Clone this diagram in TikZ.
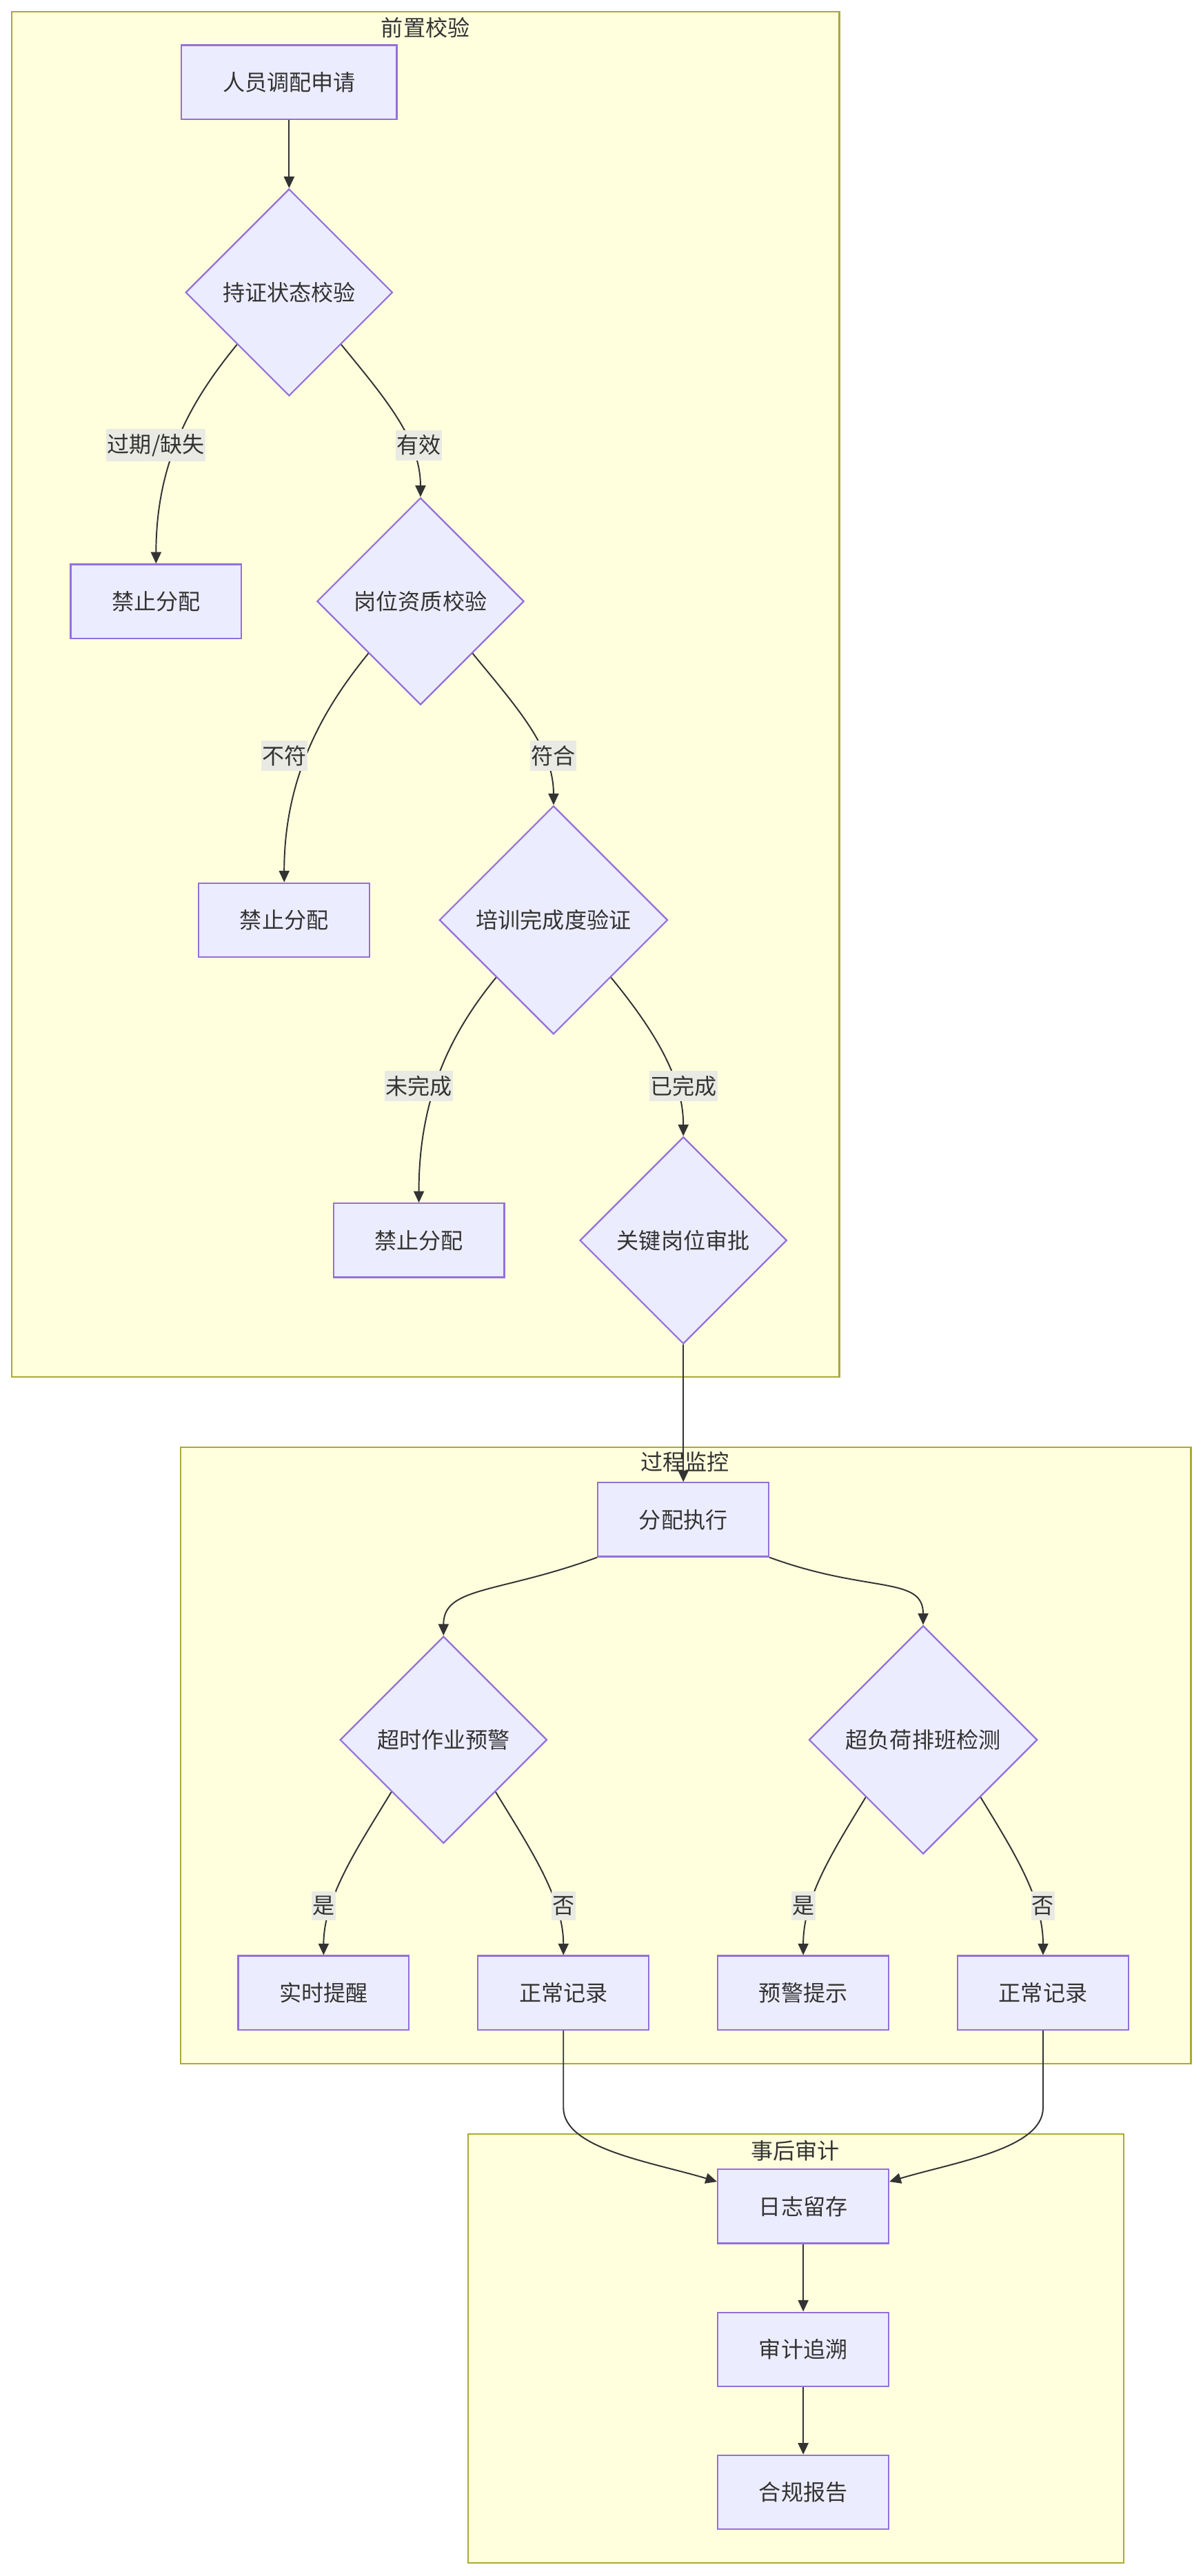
\documentclass[tikz,border=0pt]{standalone}
\usepackage{fontspec}
\setmainfont{Noto Sans CJK SC}
\usepackage{xcolor}
\usepackage{tikz}
\usetikzlibrary{shapes.geometric, arrows.meta, positioning}
\definecolor{flowfill}{HTML}{ECECFF}
\definecolor{flowline}{HTML}{9370DB}
\definecolor{grpfill}{HTML}{FFFFDE}
\definecolor{grpline}{HTML}{AAAA33}
\definecolor{flowtext}{HTML}{333333}
\definecolor{lblfill}{HTML}{EAEAE4}

\begin{document}
\begin{tikzpicture}[
    x=0.03cm, y=-0.03cm,
    font=\fontsize{11.5pt}{14pt}\selectfont,
    procbox/.style={
      rectangle, draw=flowline, line width=0.8pt, fill=flowfill,
      text=flowtext, minimum width=3.12cm, minimum height=1.35cm,
      inner sep=0pt, align=center
    },
    decision/.style={
      diamond, draw=flowline, line width=0.8pt, fill=flowfill,
      text=flowtext, minimum width=3.78cm, minimum height=3.78cm,
      inner sep=0pt, align=center
    },
    bigdecision/.style={decision, minimum width=4.17cm, minimum height=4.17cm},
    grp/.style={draw=grpline, line width=0.8pt, fill=grpfill},
    grptitle/.style={text=flowtext, inner sep=0pt},
    lbl/.style={fill=lblfill, text=flowtext, inner xsep=0.5pt, inner ysep=2.5pt},
    arr/.style={-{Triangle[length=2.1mm, width=1.9mm]}, draw=flowtext, line width=0.7pt},
  ]
  \fill[white] (0,0) rectangle (732,1568);
  \useasboundingbox (0,0) rectangle (732,1568);

  % groups
  \draw[grp] (7,7) rectangle (511,838);
  \node[grptitle] (t1) at (259,17) {前置校验};
  \draw[grp] (110,881) rectangle (725,1256);
  \node[grptitle] (t2) at (417,890) {过程监控};
  \draw[grp] (285,1299) rectangle (684,1560);
  \node[grptitle] (t3) at (484,1309) {事后审计};

  % pre checks
  \node[procbox, minimum width=3.93cm] (req) at (176,50) {人员调配申请};
  \node[decision] (cert) at (176,178) {持证状态校验};
  \node[procbox] (deny1) at (95,366) {禁止分配};
  \node[decision] (qual) at (256,366) {岗位资质校验};
  \node[procbox] (deny2) at (173,560) {禁止分配};
  \node[bigdecision] (train) at (337,560) {培训完成度验证};
  \node[procbox] (deny3) at (255,755) {禁止分配};
  \node[decision] (appr) at (416,755) {关键岗位审批};

  % monitoring
  \node[procbox] (exec) at (416,925) {分配执行};
  \node[decision] (overtime) at (270,1059) {超时作业预警};
  \node[bigdecision] (overload) at (562,1059) {超负荷排班检测};
  \node[procbox] (remind) at (197,1213) {实时提醒};
  \node[procbox] (norm1) at (343,1213) {正常记录};
  \node[procbox] (warn) at (489,1213) {预警提示};
  \node[procbox] (norm2) at (635,1213) {正常记录};

  % audit
  \node[procbox] (logkeep) at (489,1343) {日志留存};
  \node[procbox] (trace) at (489,1430) {审计追溯};
  \node[procbox] (report) at (489,1517) {合规报告};

  % edges
  \draw[arr] (req) -- (cert);
  \draw[arr] (cert.south west) .. controls +(-27,33) and +(0,-63) .. (deny1.north);
  \draw[arr] (cert.south east) .. controls +(27,33) and +(0,-35) .. (qual.north);
  \draw[arr] (qual.south west) .. controls +(-27,33) and +(0,-65) .. (deny2.north);
  \draw[arr] (qual.south east) .. controls +(27,33) and +(0,-35) .. (train.north);
  \draw[arr] (train.south west) .. controls +(-27,33) and +(0,-65) .. (deny3.north);
  \draw[arr] (train.south east) .. controls +(27,33) and +(0,-35) .. (appr.north);
  \draw[arr] (appr) -- (exec);
  \draw[arr] (exec.south west) .. controls +(-60,22) and +(0,-30) .. (overtime.north);
  \draw[arr] (exec.south east) .. controls +(60,22) and +(0,-30) .. (overload.north);
  \draw[arr] (overtime.south west) .. controls +(-20,33) and +(0,-35) .. (remind.north);
  \draw[arr] (overtime.south east) .. controls +(20,33) and +(0,-35) .. (norm1.north);
  \draw[arr] (overload.south west) .. controls +(-20,33) and +(0,-35) .. (warn.north);
  \draw[arr] (overload.south east) .. controls +(20,33) and +(0,-35) .. (norm2.north);
  \draw[arr] (norm1.south) -- ++(0,47) .. controls +(0,25) and +(-40,-12) .. (logkeep.164);
  \draw[arr] (norm2.south) -- ++(0,47) .. controls +(0,25) and +(40,-12) .. (logkeep.16);
  \draw[arr] (logkeep) -- (trace);
  \draw[arr] (trace) -- (report);

  % edge labels
  \node[lbl] (lexp) at (95,271) {过期/缺失};
  \node[lbl] (lval) at (255,271) {有效};
  \node[lbl] (lmis) at (173,460) {不符};
  \node[lbl] (lfit) at (337,460) {符合};
  \node[lbl] (lundone) at (255,661) {未完成};
  \node[lbl] (ldone) at (416,661) {已完成};
  \node[lbl] (lyes1) at (197,1160) {是};
  \node[lbl] (lno1) at (343,1160) {否};
  \node[lbl] (lyes2) at (489,1160) {是};
  \node[lbl] (lno2) at (635,1160) {否};
\end{tikzpicture}
\end{document}
